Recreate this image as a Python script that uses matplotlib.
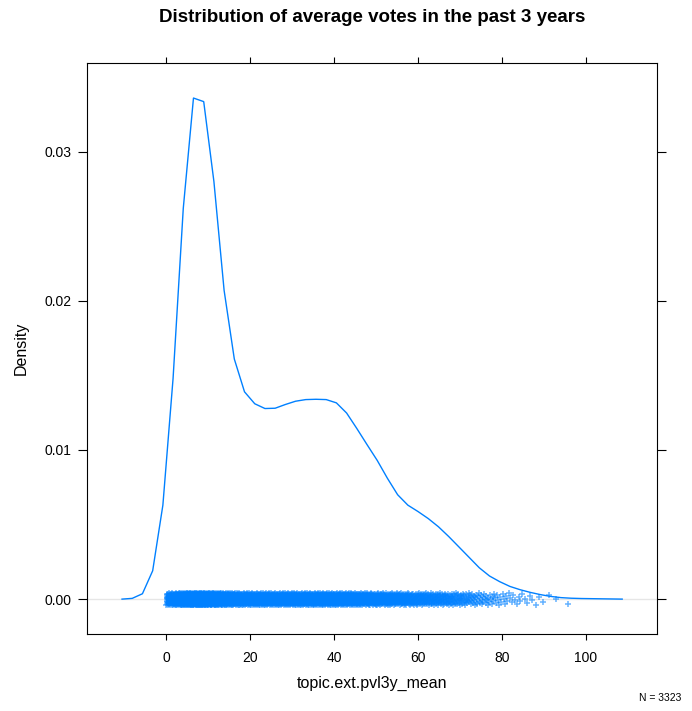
import numpy as np
import matplotlib
matplotlib.use("Agg")
from matplotlib import pyplot as plt

plt.rcParams['font.family'] = ['Liberation Sans', 'DejaVu Sans']

title = 'Distribution of average votes in the past 3 years'
xlab = 'topic.ext.pvl3y_mean'
ylab = 'Density'
n_obs = 3323

# density curve (lattice evaluates on 50 points)
dens_x = [-10.55, -8.12, -5.69, -3.25, -0.82, 1.61, 4.04, 6.47, 8.91, 11.34,
          13.77, 16.20, 18.63, 21.07, 23.50, 25.93, 28.36, 30.79, 33.23, 35.66,
          38.09, 40.52, 42.95, 45.39, 47.82, 50.25, 52.68, 55.11, 57.55, 59.98,
          62.41, 64.84, 67.27, 69.71, 72.14, 74.57, 77.00, 79.43, 81.87, 84.30,
          86.73, 89.16, 91.59, 94.03, 96.46, 98.89, 101.32, 103.75, 106.18, 108.61]
dens_y = [0.0, 0.00005, 0.00036, 0.0019, 0.0063, 0.0148, 0.0262, 0.0336, 0.03336, 0.0280,
          0.0207, 0.0161, 0.0139, 0.0131, 0.01278, 0.0128, 0.01305, 0.01327, 0.01338, 0.0134,
          0.01338, 0.01316, 0.01248, 0.01144, 0.01036, 0.0093, 0.0081, 0.0070, 0.0063, 0.00587,
          0.0054, 0.00485, 0.0042, 0.0035, 0.0028, 0.0021, 0.00155, 0.00117, 0.00085, 0.00063,
          0.00045, 0.0003, 0.00018, 0.0001, 0.00006, 0.00004, 0.00003, 0.00002, 0.00001, 0.0]

# observed range of the raw values
data_min = 0.0
data_max = 98.5

xticks = [0, 20, 40, 60, 80, 100]
yticks = [0.00, 0.01, 0.02, 0.03]
blue = '#0080ff'

# raw points: quantiles of the read density inside the observed range
gx = np.linspace(data_min, data_max, 2000)
gy = np.interp(gx, dens_x, dens_y)
cdf = np.concatenate([[0], np.cumsum((gy[1:] + gy[:-1]) / 2 * np.diff(gx))])
cdf /= cdf[-1]
probs = (np.arange(n_obs) + 0.5) / n_obs
pts_x = np.interp(probs, cdf, gx)
# jitter like lattice's plot.points = "jitter" (deterministic spread)
pts_y = ((np.arange(n_obs) * 0.6180339887) % 1.0 - 0.5) * 0.0008

fig = plt.figure(figsize=(6.92, 7.11), dpi=100)
ax = fig.add_axes([0.1257, 0.1087, 0.8237, 0.8027])

ax.axhline(0, color='#e6e6e6', lw=1, zorder=1)
ax.plot(pts_x, pts_y, ls='none', marker='+', ms=4.2, mew=1.1, color=blue, alpha=0.6, zorder=2)
ax.plot(dens_x, dens_y, color=blue, lw=1, zorder=3)

ax.set_xlim(-18.9, 116.9)
ax.set_ylim(-0.00232, 0.03595)
ax.set_xticks(xticks)
ax.set_xticklabels([str(t) for t in xticks])
ax.set_yticks(yticks)
ax.set_yticklabels(['%.2f' % t for t in yticks])

ax.tick_params(axis='x', direction='out', length=4.5, width=0.8, top=True, labeltop=False,
               labelsize=10, pad=8)
ax.tick_params(axis='y', direction='out', length=6.2, width=0.8, right=True, labelright=False,
               labelsize=10, pad=5)
for s in ax.spines.values():
    s.set_linewidth(0.8)
    s.set_color('black')

ax.set_xlabel(xlab, fontsize=11.5, labelpad=8)
ax.set_ylabel(ylab, fontsize=11.5, labelpad=11)
fig.text(0.5376, 0.975, title, ha='center', va='center', fontsize=13.5, fontweight='bold')
fig.text(0.985, 0.018, 'N = %d' % n_obs, ha='right', va='center', fontsize=7.5)

fig.savefig('out.png', dpi=100)
